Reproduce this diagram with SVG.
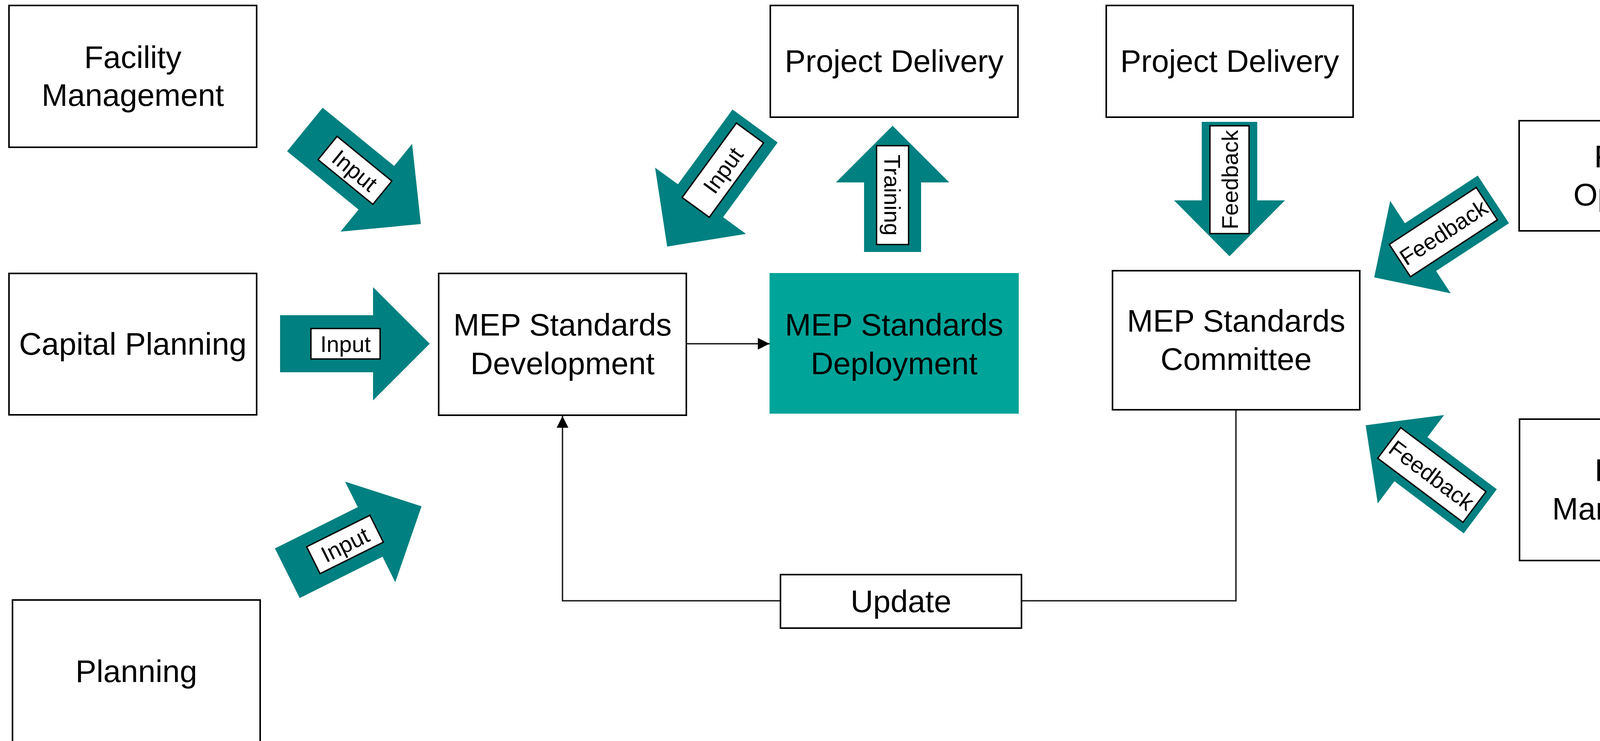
<svg xmlns="http://www.w3.org/2000/svg" width="4528" height="1897" viewBox="0 0 4528 1897">
<style>
.box{fill:#ffffff;stroke:#000000;stroke-width:4}
.fill{fill:#00A499;stroke:none}
.t{font-family:"Liberation Sans",Arial,sans-serif;font-size:80px;fill:#000000;text-anchor:middle}
.ba{fill:#008080;stroke:none}
.lb{fill:#ffffff;stroke:#000000;stroke-width:3.5}
.lt{font-family:"Liberation Sans",Arial,sans-serif;font-size:58px;fill:#000000;text-anchor:middle}
.ln{fill:none;stroke:#1a1a1a;stroke-width:3.5}
</style>
<defs>
<marker id="ah" markerUnits="userSpaceOnUse" markerWidth="32" markerHeight="32" refX="30" refY="15" orient="auto">
<path d="M0,0 L30,15 L0,30 Z" fill="#000000"/>
</marker>
</defs>
<rect width="4528" height="1897" fill="#ffffff"/>

<g id="connectors">
  <path class="ln" d="M1757,880 H1970" marker-end="url(#ah)"/>
  <path class="ln" d="M3164,1051 V1538 H1440 V1065" marker-end="url(#ah)"/>

  <g id="arrow-fm-input" transform="translate(780.5,331.5) rotate(39.2)">
    <path class="ba" d="M0,-72 H236 V-145 L383,0 L236,145 V72 H0 Z"/>
    <rect class="lb" x="75" y="-38.5" width="181" height="77"/>
    <text class="lt" x="165.5" y="21">Input</text>
  </g>
  <g id="arrow-cp-input" transform="translate(717,880)">
    <path class="ba" d="M0,-73 H238 V-145 L383,0 L238,145 V73 H0 Z"/>
    <rect class="lb" x="79" y="-39" width="177" height="78"/>
    <text class="lt" x="167.5" y="21">Input</text>
  </g>
  <g id="arrow-pl-input" transform="translate(735.5,1467.5) rotate(-26.5)">
    <path class="ba" d="M0,-71 H237 V-144 L384,0 L237,144 V71 H0 Z"/>
    <rect class="lb" x="74.5" y="-38.5" width="181" height="77"/>
    <text class="lt" x="165" y="21">Input</text>
  </g>
  <g id="arrow-pd-input" transform="translate(1933,322.5) rotate(126.1)">
    <path class="ba" d="M0,-71.5 H237 V-144 L382,0 L237,144 V71.5 H0 Z"/>
    <rect class="lb" x="22" y="-43" width="236" height="86"/>
    <text class="lt" x="140" y="21" transform="rotate(180 140 0)">Input</text>
  </g>
  <g id="arrow-training" transform="translate(2285,645) rotate(-90)">
    <path class="ba" d="M0,-73 H178 V-145 L323,0 L178,145 V73 H0 Z"/>
    <rect class="lb" x="19" y="-41" width="253" height="82"/>
    <text class="lt" x="145.5" y="21" transform="rotate(180 145.5 0)">Training</text>
  </g>
  <g id="arrow-pd2-feedback" transform="translate(3147.5,312) rotate(90)">
    <path class="ba" d="M0,-71 H201 V-142 L344,0 L201,142 V71 H0 Z"/>
    <rect class="lb" x="10" y="-50" width="276" height="100"/>
    <text class="lt" x="148" y="21" transform="rotate(180 148 0)">Feedback</text>
  </g>
  <g id="arrow-fo-feedback" transform="translate(3823,510.5) rotate(146.8)">
    <path class="ba" d="M0,-73 H223 V-141.5 L364.5,0 L223,141.5 V73 H0 Z"/>
    <rect class="lb" x="20" y="-49.5" width="266" height="99"/>
    <text class="lt" x="153" y="21" transform="rotate(180 153 0)">Feedback</text>
  </g>
  <g id="arrow-fm2-feedback" transform="translate(3789.5,1309) rotate(-143.1)">
    <path class="ba" d="M0,-70.5 H222 V-141.5 L367,0 L222,141.5 V70.5 H0 Z"/>
    <rect class="lb" x="18.5" y="-49" width="273" height="98"/>
    <text class="lt" x="155" y="21" transform="rotate(180 155 0)">Feedback</text>
  </g>
</g>

<g id="node-facility-management-left">
  <rect class="box" x="23" y="14" width="634" height="363"/>
  <text class="t" x="340" y="174">Facility</text>
  <text class="t" x="340" y="271">Management</text>
</g>
<g id="node-capital-planning">
  <rect class="box" x="23" y="700" width="634" height="362"/>
  <text class="t" x="340" y="908">Capital Planning</text>
</g>
<g id="node-planning">
  <rect class="box" x="32" y="1536" width="634" height="366"/>
  <text class="t" x="349" y="1746">Planning</text>
</g>
<g id="node-mep-development">
  <rect class="box" x="1123" y="700" width="634" height="363"/>
  <text class="t" x="1440" y="859">MEP Standards</text>
  <text class="t" x="1440" y="958">Development</text>
</g>
<g id="node-mep-deployment">
  <rect class="fill" x="1970" y="699" width="638" height="360"/>
  <text class="t" x="2289" y="859">MEP Standards</text>
  <text class="t" x="2289" y="958">Deployment</text>
</g>
<g id="node-project-delivery-1">
  <rect class="box" x="1972" y="14" width="634" height="286"/>
  <text class="t" x="2289" y="184">Project Delivery</text>
</g>
<g id="node-project-delivery-2">
  <rect class="box" x="2832" y="14" width="632" height="286"/>
  <text class="t" x="3148" y="184">Project Delivery</text>
</g>
<g id="node-mep-committee">
  <rect class="box" x="2848" y="693" width="633" height="356"/>
  <text class="t" x="3164.5" y="849">MEP Standards</text>
  <text class="t" x="3164.5" y="947">Committee</text>
</g>
<g id="node-facility-operators">
  <rect class="box" x="3889" y="309" width="633" height="282"/>
  <text class="t" x="4205.5" y="428">Facility</text>
  <text class="t" x="4205.5" y="526">Operators</text>
</g>
<g id="node-facility-management-right">
  <rect class="box" x="3890" y="1073" width="634" height="362"/>
  <text class="t" x="4207" y="1231">Facility</text>
  <text class="t" x="4207" y="1330">Management</text>
</g>
<g id="node-update">
  <rect class="box" x="1998" y="1471" width="617" height="137"/>
  <text class="t" x="2306.5" y="1567">Update</text>
</g>
</svg>
